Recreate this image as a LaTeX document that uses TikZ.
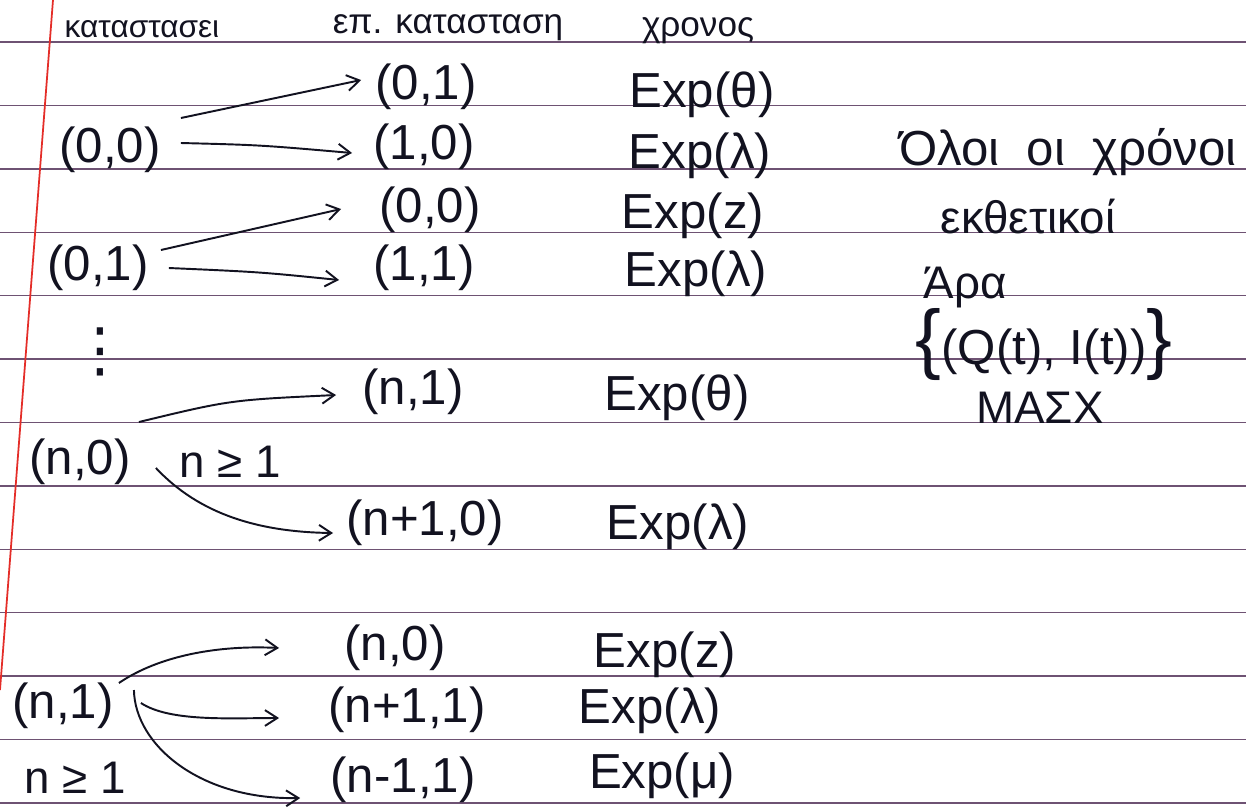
\documentclass[tikz,border=0pt]{standalone}
\usepackage{fontspec}
\setmainfont{Liberation Sans}
\newfontfamily\symfnt{DejaVu Sans}
\usetikzlibrary{arrows.meta}
\definecolor{rulecol}{RGB}{110,82,115}
\definecolor{margincol}{RGB}{228,45,40}
\definecolor{ink}{RGB}{18,18,32}
\begin{document}
\begin{tikzpicture}[x=0.02cm,y=-0.02cm,
  lbl/.style={inner sep=0pt,text=ink,font=\fontsize{28}{30}\selectfont},
  hdr/.style={inner sep=0pt,text=ink,font=\fontsize{20}{22}\selectfont},
  note/.style={inner sep=0pt,text=ink,font=\fontsize{26}{28}\selectfont},
  arr/.style={draw=ink,line width=1.1pt,-{Straight Barb[length=7pt,width=9pt]}}]
\fill[white] (0,0) rectangle (1246,809);
\useasboundingbox (0,0) rectangle (1246,809);
% ruled paper
\foreach \k in {0,...,12} \draw[rulecol,line width=0.8pt] (0,42+63.4*\k) -- (1246,42+63.4*\k);
\draw[margincol,line width=1pt] (53,0) -- (0,690);
% headers
\node[hdr,font=\fontsize{18}{20}\selectfont] (h1) at (142,29) {καταστασει};
\node[hdr] (h2) at (448,28) {επ. κατασταση};
\node[hdr] (h3) at (698,31) {χρονος};
% source states
\node[lbl] (s00) at (110,150) {(0,0)};
\node[lbl] (s01) at (98,268) {(0,1)};
\node[inner sep=0pt,text=ink,font=\symfnt\fontsize{34}{36}\selectfont] (dots) at (100,352) {⋮};
\node[lbl] (sn0) at (80,462) {(n,0)};
\node[note] (c1) at (230,462) {n ≥ 1};
\node[lbl] (sn1) at (63,706) {(n,1)};
\node[note] (c2) at (75,778) {n ≥ 1};
% target states
\node[lbl] (t01) at (426,87) {(0,1)};
\node[lbl] (t10) at (424,147) {(1,0)};
\node[lbl] (t00) at (430,210) {(0,0)};
\node[lbl] (t11) at (424,268) {(1,1)};
\node[lbl] (tn1) at (413,392) {(n,1)};
\node[lbl] (tn10) at (425,523) {(n+1,0)};
\node[lbl] (tn0b) at (395,648) {(n,0)};
\node[lbl] (tn11) at (407,710) {(n+1,1)};
\node[lbl] (tnm1) at (403,780) {(n-1,1)};
% times
\node[lbl] (e1) at (702,95) {Exp(θ)};
\node[lbl] (e2) at (700,156) {Exp(λ)};
\node[lbl] (e3) at (693,216) {Exp(z)};
\node[lbl] (e4) at (696,274) {Exp(λ)};
\node[lbl] (e5) at (677,398) {Exp(θ)};
\node[lbl] (e6) at (678,527) {Exp(λ)};
\node[lbl] (e7) at (665,655) {Exp(z)};
\node[lbl] (e8) at (650,711) {Exp(λ)};
\node[lbl] (e9) at (662,776) {Exp(μ)};
% right notes
\node[lbl] (r1) at (1068,152) {Όλοι\ \ οι\ \ χρόνοι};
\node[note] (r2) at (1028,217) {εκθετικοί};
\node[note] (r3) at (965,287) {Άρα};
\node[lbl] (r4) at (1044,345) {{\fontsize{44}{44}\selectfont\{}(Q(t), I(t)){\fontsize{44}{44}\selectfont\}}};
\node[note] (r5) at (1040,408) {ΜΑΣΧ};
% connectors
\draw[arr] ([shift={(20,-32)}]s00.east) -- ([shift={(-14,-7)}]t01.west);
\draw[arr] ([shift={(20,-7)}]s00.east) .. controls (260,145) .. ([shift={(-21,6)}]t10.west);
\draw[arr] ([shift={(12,-18)}]s01.east) -- ([shift={(-38,-1)}]t00.west);
\draw[arr] ([shift={(20,0)}]s01.east) .. controls (260,272) .. ([shift={(-34,12)}]t11.west);
\draw[arr] ([shift={(8,-40)}]sn0.east) .. controls (230,400) .. ([shift={(-26,3)}]tn1.west);
\draw[arr] ([shift={(25,6)}]sn0.east) .. controls (200,515) and (260,532) .. ([shift={(-13,10)}]tn10.west);
\draw[arr] ([shift={(5,-23)}]sn1.east) .. controls (160,655) and (220,645) .. ([shift={(-65,0)}]tn0b.west);
\draw[arr] ([shift={(27,-3)}]sn1.east) .. controls (170,722) and (230,718) .. ([shift={(-49,8)}]tn11.west);
\draw[arr] ([shift={(20,-16)}]sn1.east) .. controls (135,745) and (200,800) .. ([shift={(-30,18)}]tnm1.west);
\end{tikzpicture}
\end{document}
